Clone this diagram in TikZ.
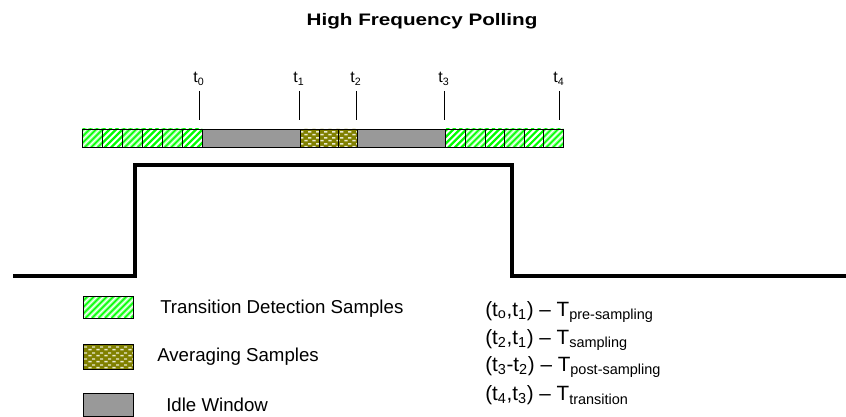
\documentclass[tikz,border=0pt]{standalone}
\usepackage{fontspec}
\setmainfont{Liberation Sans}
\usetikzlibrary{patterns}

% staggered white dashes for the averaging samples
\pgfdeclarepatternformonly{avgdashes}{\pgfqpoint{0pt}{0pt}}{\pgfqpoint{6pt}{4.6pt}}{\pgfqpoint{6pt}{4.6pt}}{
  \pgfpathrectangle{\pgfqpoint{0.4pt}{0.6pt}}{\pgfqpoint{2.6pt}{1.1pt}}
  \pgfpathrectangle{\pgfqpoint{3.4pt}{2.9pt}}{\pgfqpoint{2.6pt}{1.1pt}}
  \pgfusepath{fill}}

\definecolor{idlegray}{RGB}{153,153,153}
\definecolor{avgolive}{RGB}{128,128,0}
\definecolor{dashwhite}{RGB}{235,235,210}
\definecolor{brightgreen}{RGB}{0,255,0}

% box with diagonal green stripes: x1,y1,x2,y2,stripe style
\newcommand{\hatchbox}[5]{%
  \begin{scope}
    \clip (#1,#2) rectangle (#3,#4);
    \foreach \s in {-30,-23.5,...,60} \draw[#5] (#1+\s,#4) -- ++(30,-30);
  \end{scope}
  \draw[boxline] (#1,#2) rectangle (#3,#4);}

\begin{document}
\begin{tikzpicture}[x=0.75pt,y=0.75pt,yscale=-1,xscale=1,
  boxline/.style={draw=black,line width=0.6pt},
  softstripe/.style={brightgreen,line width=1.0pt,preaction={draw=brightgreen!45,line width=2.4pt}},
  hardstripe/.style={brightgreen,line width=1.7pt},
  avgbox/.style={boxline,preaction={fill=avgolive},pattern=avgdashes,pattern color=dashwhite},
  idlebox/.style={boxline,fill=idlegray},
  tick/.style={line width=0.6pt},
  wave/.style={line width=2.3pt},
  tlabel/.style={font=\fontsize{12}{14}\selectfont,anchor=south,inner sep=1pt},
  legtext/.style={font=\fontsize{14}{16}\selectfont,anchor=west,inner sep=0pt},
  deftext/.style={font=\fontsize{15.5}{18}\selectfont,anchor=west,inner sep=0pt}]
\useasboundingbox (0,0) rectangle (846,417);

% Title
\node[font=\bfseries\fontsize{12.5}{15}\selectfont] (title) at (422,21) {\scalebox{1.24}[1]{High Frequency Polling}};

% Sample bar
\foreach \x in {82,122,162} \hatchbox{\x}{129}{\x+20}{147.5}{softstripe};
\foreach \x in {102,142,182} \hatchbox{\x}{129}{\x+20}{147.5}{hardstripe};
\draw[idlebox] (202,129) rectangle (300,147.5);
\foreach \x in {300,319.3,338.5} \draw[avgbox] (\x,129) rectangle ++(19.2,18.5);
\draw[idlebox] (357.7,129) rectangle (445.7,147.5);
\foreach \x in {445.7,484.9,524.1} \hatchbox{\x}{129}{\x+19.6}{147.5}{hardstripe};
\foreach \x in {465.3,504.5,543.7} \hatchbox{\x}{129}{\x+19.6}{147.5}{softstripe};

% Time marks
\node[tlabel] (t0) at (199,87) {t\textsubscript{0}};
\node[tlabel] (t1) at (299,87) {t\textsubscript{1}};
\node[tlabel] (t2) at (356,87) {t\textsubscript{2}};
\node[tlabel] (t3) at (444,87) {t\textsubscript{3}};
\node[tlabel] (t4) at (559,87) {t\textsubscript{4}};
\foreach \t in {t0,t1,t2,t3,t4} \draw[tick] (\t.south) ++(0,4) -- ++(0,29);

% Signal
\draw[wave] (13,276) -- (135,276) -- (135,165) -- (512,165) -- (512,276) -- (846,276);

% Legend
\hatchbox{83}{296}{133}{318}{softstripe}
\draw[avgbox] (83,344) rectangle (133,369);
\draw[idlebox] (83,393) rectangle (133,416);
\node[legtext] (lgtrans) at (160,309) {Transition Detection Samples};
\node[legtext] (lgavg) at (157,357) {Averaging Samples};
\node[legtext] (lgidle) at (166,405) {Idle Window};

% Interval definitions
\node[deftext] (dpre) at (485,312) {(t\textsubscript{o},t\textsubscript{1}) -- T\textsubscript{pre-sampling}};
\node[deftext] (dsam) at (485,340) {(t\textsubscript{2},t\textsubscript{1}) -- T\textsubscript{sampling}};
\node[deftext] (dpost) at (485,367) {(t\textsubscript{3}-t\textsubscript{2}) -- T\textsubscript{post-sampling}};
\node[deftext] (dtrans) at (485,395) {(t\textsubscript{4},t\textsubscript{3}) -- T\textsubscript{transition}};

\end{tikzpicture}
\end{document}
